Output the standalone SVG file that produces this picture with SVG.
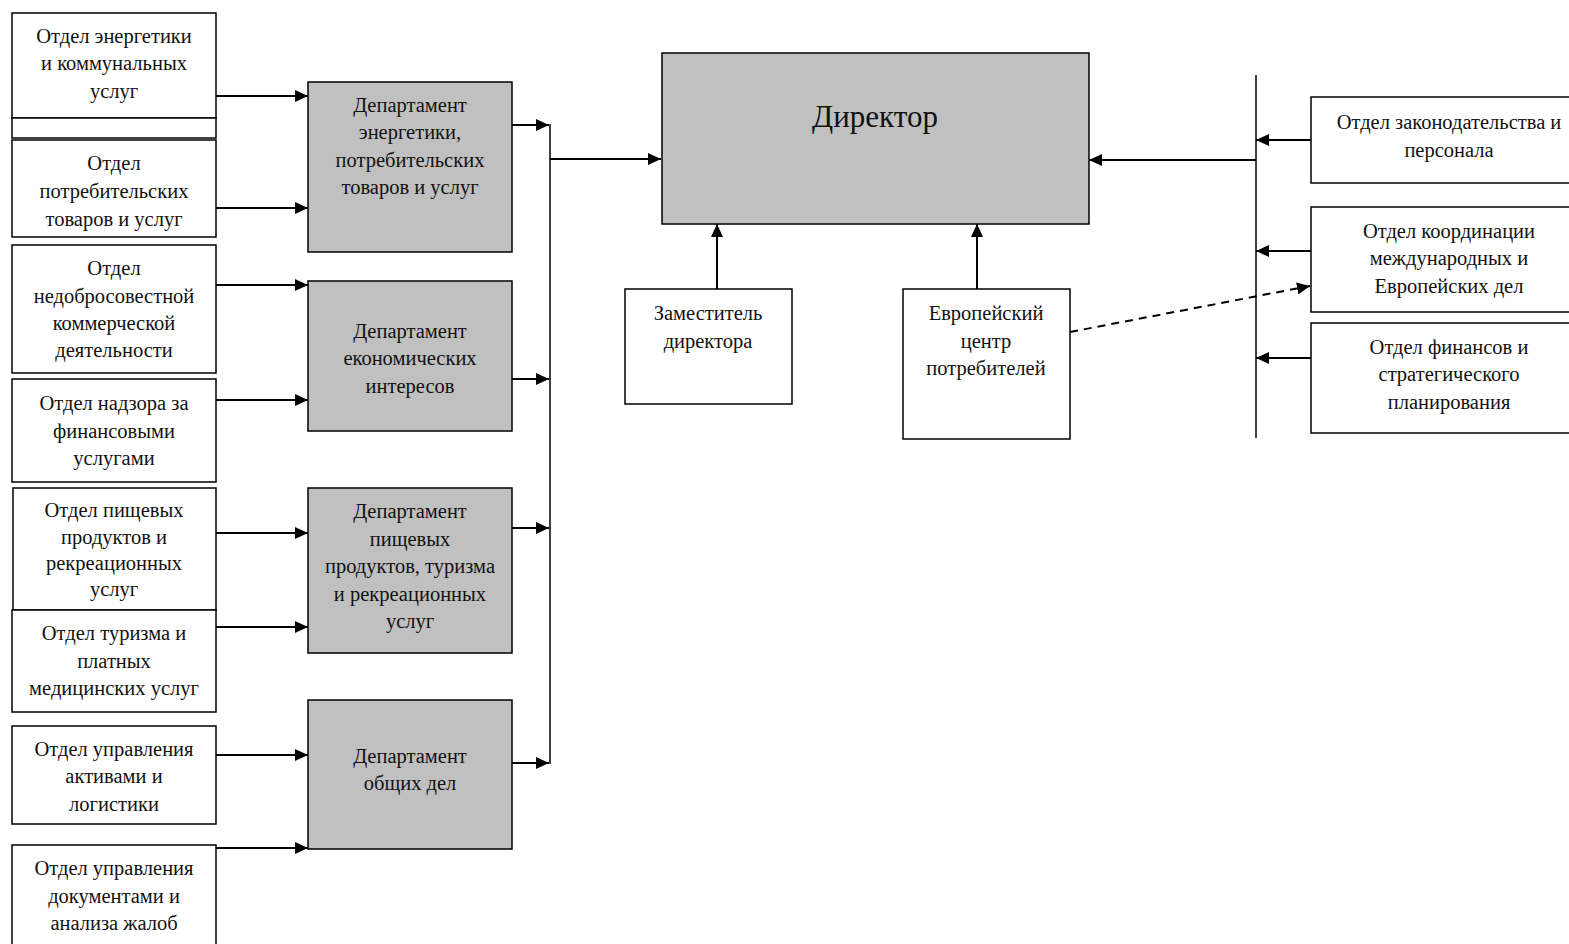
<svg xmlns="http://www.w3.org/2000/svg" width="1569" height="944" viewBox="0 0 1569 944">
<style>
.b{fill:#fff;stroke:#000;stroke-width:1.5}
.g{fill:#c0c0c0;stroke:#000;stroke-width:1.5}
text{font-family:"Liberation Serif","Times New Roman",serif;font-size:20.5px;fill:#111;text-anchor:middle}
.c{fill:none;stroke:#000;stroke-width:2}
.a{marker-end:url(#ah)}
.d{stroke-dasharray:8,6}
</style>
<defs>
<marker id="ah" markerUnits="userSpaceOnUse" markerWidth="14" markerHeight="12" refX="13" refY="6" orient="auto">
<path d="M0,0 L13,6 L0,12 z" fill="#000"/>
</marker>
</defs>
<rect width="1569" height="944" fill="#fff"/>
<g id="connectors">
<line class="c a" x1="216" y1="96" x2="308" y2="96"/>
<line class="c a" x1="216" y1="208" x2="308" y2="208"/>
<line class="c a" x1="216" y1="285" x2="308" y2="285"/>
<line class="c a" x1="216" y1="400" x2="308" y2="400"/>
<line class="c a" x1="216" y1="533" x2="308" y2="533"/>
<line class="c a" x1="216" y1="627" x2="308" y2="627"/>
<line class="c a" x1="216" y1="755" x2="308" y2="755"/>
<line class="c a" x1="216" y1="848" x2="308" y2="848"/>
<line class="c a" x1="512" y1="125" x2="549" y2="125"/>
<line class="c a" x1="512" y1="379" x2="549" y2="379"/>
<line class="c a" x1="512" y1="528" x2="549" y2="528"/>
<line class="c a" x1="512" y1="763" x2="549" y2="763"/>
<line class="c" x1="550" y1="124" x2="550" y2="764" style="stroke-width:1.5"/>
<line class="c a" x1="550" y1="159" x2="661" y2="159"/>
<line class="c a" x1="717" y1="289" x2="717" y2="224"/>
<line class="c a" x1="977" y1="289" x2="977" y2="224"/>
<line class="c" x1="1256" y1="75" x2="1256" y2="438" style="stroke-width:1.5"/>
<line class="c a" x1="1256" y1="160" x2="1089" y2="160"/>
<line class="c a" x1="1311" y1="140" x2="1256" y2="140"/>
<line class="c a" x1="1311" y1="251" x2="1256" y2="251"/>
<line class="c a" x1="1311" y1="358" x2="1256" y2="358"/>
<line class="c a d" x1="1070" y1="332" x2="1310" y2="286"/>
</g>
<g id="n1"><rect class="b" x="12" y="13" width="204" height="105"/><text x="114" y="43">Отдел энергетики</text><text x="114" y="70">и коммунальных</text><text x="114" y="98">услуг</text></g>
<g id="n1b"><rect class="b" x="12" y="118" width="204" height="20"/></g>
<g id="n2"><rect class="b" x="12" y="140" width="204" height="97"/><text x="114" y="170">Отдел</text><text x="114" y="198">потребительских</text><text x="114" y="226">товаров и услуг</text></g>
<g id="n3"><rect class="b" x="12" y="245" width="204" height="128"/><text x="114" y="275">Отдел</text><text x="114" y="303">недобросовестной</text><text x="114" y="330">коммерческой</text><text x="114" y="357">деятельности</text></g>
<g id="n4"><rect class="b" x="12" y="379" width="204" height="103"/><text x="114" y="410">Отдел надзора за</text><text x="114" y="438">финансовыми</text><text x="114" y="465">услугами</text></g>
<g id="n5"><rect class="b" x="13" y="488" width="203" height="122"/><text x="114" y="517">Отдел пищевых</text><text x="114" y="544">продуктов и</text><text x="114" y="570">рекреационных</text><text x="114" y="596">услуг</text></g>
<g id="n6"><rect class="b" x="12" y="610" width="204" height="102"/><text x="114" y="640">Отдел туризма и</text><text x="114" y="668">платных</text><text x="114" y="695">медицинских услуг</text></g>
<g id="n7"><rect class="b" x="12" y="726" width="204" height="98"/><text x="114" y="756">Отдел управления</text><text x="114" y="783">активами и</text><text x="114" y="811">логистики</text></g>
<g id="n8"><rect class="b" x="12" y="845" width="204" height="110"/><text x="114" y="875">Отдел управления</text><text x="114" y="903">документами и</text><text x="114" y="930">анализа жалоб</text></g>
<g id="d1"><rect class="g" x="308" y="82" width="204" height="170"/><text x="410" y="112">Департамент</text><text x="410" y="139">энергетики,</text><text x="410" y="167">потребительских</text><text x="410" y="194">товаров и услуг</text></g>
<g id="d2"><rect class="g" x="308" y="281" width="204" height="150"/><text x="410" y="338">Департамент</text><text x="410" y="365">економических</text><text x="410" y="393">интересов</text></g>
<g id="d3"><rect class="g" x="308" y="488" width="204" height="165"/><text x="410" y="518">Департамент</text><text x="410" y="546">пищевых</text><text x="410" y="573">продуктов, туризма</text><text x="410" y="601">и рекреационных</text><text x="410" y="628">услуг</text></g>
<g id="d4"><rect class="g" x="308" y="700" width="204" height="149"/><text x="410" y="763">Департамент</text><text x="410" y="790">общих дел</text></g>
<g id="director"><rect class="g" x="662" y="53" width="427" height="171"/><text x="875" y="127" style="font-size:31px">Директор</text></g>
<g id="zam"><rect class="b" x="625" y="289" width="167" height="115"/><text x="708" y="320">Заместитель</text><text x="708" y="348">директора</text></g>
<g id="euro"><rect class="b" x="903" y="289" width="167" height="150"/><text x="986" y="320">Европейский</text><text x="986" y="348">центр</text><text x="986" y="375">потребителей</text></g>
<g id="r1"><rect class="b" x="1311" y="97" width="262" height="86"/><text x="1449" y="129">Отдел законодательства и</text><text x="1449" y="157">персонала</text></g>
<g id="r2"><rect class="b" x="1311" y="207" width="262" height="105"/><text x="1449" y="238">Отдел координации</text><text x="1449" y="265">международных и</text><text x="1449" y="293">Европейских дел</text></g>
<g id="r3"><rect class="b" x="1311" y="323" width="262" height="110"/><text x="1449" y="354">Отдел финансов и</text><text x="1449" y="381">стратегического</text><text x="1449" y="409">планирования</text></g>
</svg>
